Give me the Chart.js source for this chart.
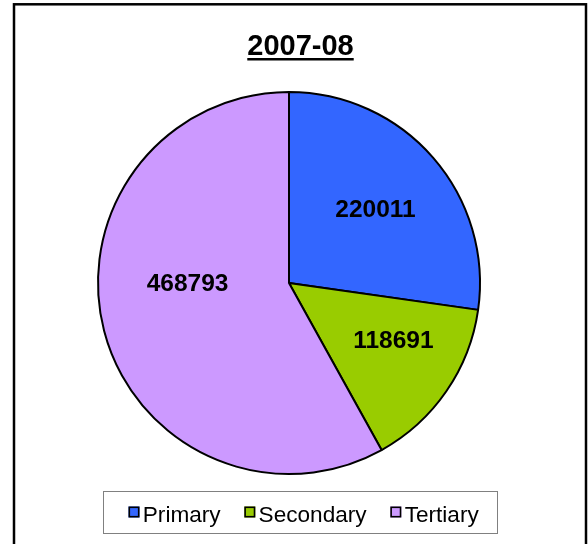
<!DOCTYPE html>
<html>
<head>
<meta charset="utf-8">
<script src="https://cdn.jsdelivr.net/npm/chart.js@4/dist/chart.umd.min.js"></script>
<style>
	html, body { margin: 0; padding: 0; background: #fff; }
	canvas { display: block; }
</style>
</head>
<body>
<canvas id="myChart" width="588" height="544"></canvas>
<script>
const chartTitle = '2007-08';
const sectors = ['Primary', 'Secondary', 'Tertiary'];
const values = [220011, 118691, 468793];
const colors = ['#3366FF', '#99CC00', '#CC99FF'];

const FONT = "'Liberation Sans', Arial, sans-serif";

// frame, underlined title, slice values and the boxed legend
const decorations = {
	id: 'decorations',
	afterDraw(chart, args, opts) {
		const ctx = chart.ctx;
		ctx.save();

		// outer frame (bottom edge runs off the picture)
		ctx.strokeStyle = '#000';
		ctx.lineWidth = 2.5;
		ctx.strokeRect(14, 4.3, 572, 700);

		// title
		ctx.fillStyle = '#000';
		ctx.font = 'bold 29px ' + FONT;
		ctx.textAlign = 'center';
		ctx.textBaseline = 'alphabetic';
		ctx.fillText(chartTitle, 300.5, 55);
		const tw = ctx.measureText(chartTitle).width;
		ctx.fillRect(300.5 - tw / 2, 58, tw, 2.5);

		// value labels
		const meta = chart.getDatasetMeta(0);
		ctx.font = 'bold 24.5px ' + FONT;
		meta.data.forEach((arc, i) => {
			const p = arc.getProps(['x', 'y', 'startAngle', 'endAngle', 'outerRadius'], true);
			const mid = (p.startAngle + p.endAngle) / 2;
			const r = p.outerRadius * 0.6;
			const nudge = opts.nudges[i] || [0, 0];
			const x = p.x + Math.cos(mid) * r + nudge[0];
			const y = p.y + Math.sin(mid) * r + nudge[1];
			ctx.fillText(String(values[i]), x, y + 8.8);
		});

		// legend
		ctx.strokeStyle = '#808080';
		ctx.lineWidth = 1;
		ctx.strokeRect(103.5, 491.5, 394, 42);
		ctx.font = '22.6px ' + FONT;
		ctx.textAlign = 'left';
		let x = 128.5;
		sectors.forEach((name, i) => {
			ctx.fillStyle = colors[i];
			ctx.fillRect(x, 506.5, 11, 11);
			ctx.strokeStyle = '#000';
			ctx.lineWidth = 1.6;
			ctx.strokeRect(x + 0.8, 507.3, 9.4, 9.4);
			ctx.fillStyle = '#000';
			ctx.fillText(name, x + 14.3, 521.5);
			x += 14.3 + ctx.measureText(name).width + 23.7;
		});

		ctx.restore();
	}
};

new Chart(document.getElementById('myChart').getContext('2d'), {
	type: 'pie',
	data: {
		labels: sectors,
		datasets: [
			{
				data: values,
				backgroundColor: colors,
				borderColor: '#000',
				borderWidth: 2,
			},
		],
	},
	options: {
		responsive: false,
		animation: false,
		radius: 191,
		layout: {
			padding: { left: 97, right: 107, top: 91, bottom: 69 },
		},
		plugins: {
			legend: { display: false },
			tooltip: { enabled: false },
			title: { display: false },
			decorations: {
				nudges: [[0, 0], [10, -9], [9.5, -29]],
			},
		},
	},
	plugins: [decorations],
});
</script>
</body>
</html>
